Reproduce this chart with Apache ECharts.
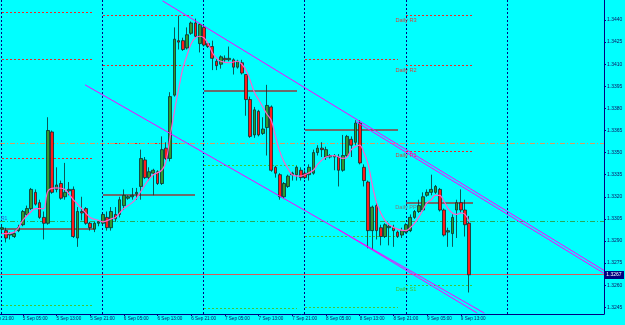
<!DOCTYPE html>
<html><head><meta charset="utf-8">
<script src="https://cdn.jsdelivr.net/npm/echarts@6/dist/echarts.min.js"></script>
<style>html,body{margin:0;padding:0;background:#00ffff;}#c{width:625px;height:325px;}</style>
</head><body><div id="c"></div>
<script>
// hours counted from 4 Sep 21:00
const candleHour = [3,4,5,6,7,8,9,10,11,12,13,14,15,16,17,18,19,20,21,22,23,24,25,26,27,28,29,30,31,32,33,34,35,36,37,38,39,40,41,42,43,44,45,46,47,48,49,50,51,52,53,54,55,56,57,58,59,60,61,62,63,64,65,66,67,68,69,70,71,72,73,74,75,76,77,78,79,80,81,82,83,84,85,86,87,88,89,90,91,92,93,94,95,96,97,98,99,100,101,102,103,104,105,106,107,108,109,110,111,112,113,114];
const candleOpen = [1.3298,1.3297,1.3294,1.3293,1.3297,1.3301,1.3308,1.3312,1.3323,1.3316,1.3306,1.3302,1.3364,1.3325,1.3329,1.3320,1.3325,1.3325,1.3292,1.3310,1.3312,1.3302,1.3298,1.3302,1.3302,1.3306,1.3299,1.3308,1.3308,1.3314,1.3319,1.3320,1.3322,1.3327,1.3345,1.3333,1.3336,1.3337,1.3329,1.3353,1.3346,1.3389,1.3426,1.3426,1.3421,1.3431,1.3438,1.3424,1.3435,1.3424,1.3422,1.3412,1.3410,1.3414,1.3413,1.3413,1.3408,1.3411,1.3403,1.3386,1.3362,1.3378,1.3363,1.3367,1.3381,1.3340,1.3335,1.3320,1.3327,1.3335,1.3335,1.3338,1.3336,1.3335,1.3336,1.3350,1.3353,1.3347,1.3347,1.3347,1.3347,1.3338,1.3348,1.3359,1.3357,1.3370,1.3340,1.3330,1.3297,1.3314,1.3299,1.3293,1.3299,1.3299,1.3296,1.3294,1.3296,1.3297,1.3306,1.3310,1.3311,1.3321,1.3323,1.3323,1.3325,1.3311,1.3296,1.3295,1.3311,1.3316,1.3311,1.3302];
const candleClose = [1.3299,1.3292,1.3295,1.3295,1.3299,1.3310,1.3312,1.3325,1.3315,1.3306,1.3302,1.3365,1.3323,1.3328,1.3319,1.3323,1.3324,1.3293,1.3310,1.3309,1.3302,1.3299,1.3302,1.3303,1.3308,1.3299,1.3310,1.3305,1.3318,1.3321,1.3320,1.3321,1.3323,1.3346,1.3333,1.3337,1.3338,1.3329,1.3352,1.3346,1.3388,1.3427,1.3425,1.3420,1.3430,1.3438,1.3429,1.3437,1.3423,1.3422,1.3414,1.3409,1.3415,1.3413,1.3414,1.3408,1.3412,1.3404,1.3386,1.3361,1.3379,1.3362,1.3366,1.3382,1.3338,1.3336,1.3320,1.3329,1.3334,1.3336,1.3340,1.3333,1.3333,1.3340,1.3350,1.3353,1.3352,1.3352,1.3348,1.3348,1.3338,1.3348,1.3361,1.3355,1.3370,1.3343,1.3331,1.3297,1.3313,1.3297,1.3293,1.3301,1.3300,1.3297,1.3293,1.3297,1.3301,1.3306,1.3310,1.3314,1.3320,1.3323,1.3325,1.3327,1.3311,1.3294,1.3297,1.3306,1.3316,1.3311,1.3301,1.3267];
const candleLow = [1.3295,1.3289,1.3291,1.3292,1.3296,1.3300,1.3307,1.3311,1.3314,1.3305,1.3291,1.3301,1.3322,1.3323,1.3318,1.3318,1.3321,1.3292,1.3286,1.3304,1.3301,1.3297,1.3296,1.3300,1.3301,1.3297,1.3297,1.3303,1.3306,1.3311,1.3318,1.3318,1.3318,1.3318,1.3332,1.3331,1.3321,1.3328,1.3328,1.3345,1.3344,1.3388,1.3420,1.3419,1.3420,1.3430,1.3428,1.3418,1.3422,1.3421,1.3406,1.3406,1.3407,1.3411,1.3412,1.3403,1.3407,1.3403,1.3375,1.3360,1.3360,1.3361,1.3362,1.3348,1.3337,1.3333,1.3318,1.3319,1.3326,1.3331,1.3331,1.3331,1.3332,1.3331,1.3335,1.3348,1.3347,1.3345,1.3346,1.3338,1.3327,1.3337,1.3347,1.3347,1.3355,1.3342,1.3327,1.3285,1.3284,1.3291,1.3287,1.3292,1.3287,1.3286,1.3292,1.3292,1.3295,1.3296,1.3305,1.3309,1.3310,1.3320,1.3321,1.3322,1.3310,1.3293,1.3286,1.3286,1.3292,1.3309,1.3293,1.3255];
const candleHigh = [1.3301,1.3299,1.3296,1.3297,1.3301,1.3311,1.3314,1.3326,1.3325,1.3318,1.3310,1.3374,1.3365,1.3340,1.3331,1.3343,1.3330,1.3327,1.3313,1.3320,1.3313,1.3303,1.3303,1.3304,1.3309,1.3310,1.3313,1.3313,1.3320,1.3325,1.3321,1.3326,1.3326,1.3352,1.3347,1.3340,1.3339,1.3338,1.3361,1.3357,1.3391,1.3435,1.3443,1.3428,1.3435,1.3439,1.3441,1.3438,1.3437,1.3425,1.3426,1.3414,1.3416,1.3416,1.3422,1.3414,1.3413,1.3413,1.3403,1.3388,1.3381,1.3379,1.3374,1.3396,1.3382,1.3341,1.3336,1.3330,1.3335,1.3337,1.3341,1.3340,1.3338,1.3342,1.3352,1.3355,1.3357,1.3354,1.3349,1.3349,1.3349,1.3362,1.3362,1.3361,1.3372,1.3372,1.3342,1.3331,1.3314,1.3316,1.3301,1.3302,1.3302,1.3301,1.3297,1.3299,1.3302,1.3308,1.3311,1.3318,1.3323,1.3325,1.3335,1.3328,1.3326,1.3312,1.3299,1.3308,1.3318,1.3325,1.3318,1.3307];

const maHour = [3,4,6,7,8,10,11,12,13,14,16,18,20,21,22,24,26,27,29,30,32,34,35,37,38,39,41,42,43,44,45,46,47,48,49,50,51,52,53,54,55,57,59,60,61,62,63,64,65,66,67,68,69,70,71,72,74,75,77,78,80,82,84,85,86,87,88,89,90,91,92,93,94,95,97,99,100,101,102,103,104,105,106,107,108,109,110,111,112,113,114];
const maValue = [1.3295,1.3295,1.3296,1.3299,1.3304,1.3310,1.3312,1.3312,1.3312,1.3324,1.3326,1.3325,1.3318,1.3315,1.3312,1.3306,1.3304,1.3303,1.3305,1.3306,1.3312,1.3316,1.3319,1.3328,1.3332,1.3335,1.3338,1.3344,1.3361,1.3378,1.3393,1.3407,1.3416,1.3424,1.3428,1.3429,1.3428,1.3424,1.3418,1.3414,1.3412,1.3411,1.3412,1.3410,1.3406,1.3399,1.3391,1.3386,1.3381,1.3376,1.3372,1.3361,1.3351,1.3344,1.3339,1.3335,1.3334,1.3335,1.3338,1.3342,1.3347,1.3348,1.3346,1.3347,1.3352,1.3354,1.3355,1.3350,1.3342,1.3328,1.3316,1.3309,1.3304,1.3301,1.3298,1.3297,1.3299,1.3302,1.3306,1.3311,1.3316,1.3318,1.3321,1.3321,1.3317,1.3312,1.3309,1.3308,1.3309,1.3308,1.3303];

const xTickHour = [0,8,16,24,32,40,48,56,64,72,80,88,96,104,112];
const xTickLabel = ['4 Sep 21:00','5 Sep 05:00','5 Sep 13:00','5 Sep 21:00','6 Sep 05:00','6 Sep 13:00','6 Sep 21:00','7 Sep 05:00','7 Sep 13:00','7 Sep 21:00','8 Sep 05:00','8 Sep 13:00','8 Sep 21:00','9 Sep 05:00','9 Sep 13:00'];
const yTickValue = [1.3245,1.3260,1.3275,1.3290,1.3305,1.3320,1.3335,1.3350,1.3365,1.3380,1.3395,1.3410,1.3425,1.3440];
const daySeparatorHour = [3,27,51,75,99,123];

// daily pivot levels per day
const pivotStart = [3,27,51,75,99];
const pivotEnd = [25,49,73,97,115];
const pivotR3 = [1.3445,1.3443,null,null,1.3443];
const pivotR2 = [1.3413,1.3409,null,null,1.3409];
const pivotR1 = [1.3346,1.3356,null,1.3413,1.3351];
const pivotPP = [1.3298,1.3321,1.3392,1.3365,1.3316];
const pivotS1 = [1.3246,null,1.3341,1.3293,1.3260];
const pivotS2 = [null,null,1.3244,1.3245,null];
const pivotLabelNames = ['Daily R3','Daily R2','Daily R1','Daily PP','Daily S1'];

// horizontal levels
const supportLevel = 1.3356;
const supportLevel2 = 1.3303;
const supportLevel2Name = 'R1';
const bidPrice = 1.3267;

// trend channel lines
const channelStartHour = [41.2, 87.1, 22.8, 82.8];
const channelStartPrice = [1.3453, 1.3371, 1.3396, 1.3298];
const channelEndHour = [146, 146, 117.6, 115.9];
const channelEndPrice = [1.3270, 1.3268, 1.3241, 1.3241];

const NAVY = '#000080';
const FONT = 'Liberation Sans';
const X_MIN = 0, X_MAX = 146, Y_MIN = 1.32404, Y_MAX = 1.34536;

const candleData = candleHour.map((h,i)=>[h, candleOpen[i], candleClose[i], candleLow[i], candleHigh[i]]);
const maData = maHour.map((h,i)=>[h, maValue[i]]);

// style kinds: 0 red dotted, 1 pivot gray, 2 green dotted, 3 orange dash-dot, 4 green dash-dot, 5 bid red
const lineKinds = [
  {color:'#ee2a26', width:1, dash:[2,2]},
  {color:'#6c6c6c', width:2, dash:null},
  {color:'#3fc53a', width:1, dash:[2,2]},
  {color:'#d59a62', width:1, dash:[5,2,1,2]},
  {color:'#27a85c', width:1, dash:[5,2,1,2]},
  {color:'#d85a5a', width:1, dash:null}
];
const segData = [];
function addSeg(arr, kind){
  arr.forEach((v,i)=>{ if(v!=null) segData.push([pivotStart[i], pivotEnd[i], v, kind]); });
}
addSeg(pivotR3,0); addSeg(pivotR2,0); addSeg(pivotR1,0);
addSeg(pivotPP,1); addSeg(pivotS1,2); addSeg(pivotS2,2);
segData.push([X_MIN, X_MAX, supportLevel, 3]);
segData.push([X_MIN, X_MAX, supportLevel2, 4]);
segData.push([X_MIN, X_MAX, bidPrice, 5]);

const last = pivotStart.length-1;
const labelLevels = [pivotR3[last], pivotR2[last], pivotR1[last], pivotPP[last], pivotS1[last]];
const labelColors = ['#d8403c','#d8403c','#d8403c','#7c7c7c','#3fc53a'];
const labelData = labelLevels.map((v,i)=>[pivotStart[last], v, i]);

const channelLines = channelStartHour.map((h,i)=>[{coord:[h, channelStartPrice[i]]},{coord:[channelEndHour[i], channelEndPrice[i]]}]);

function snap(v, w){ return (w % 2 === 1) ? Math.floor(v) + 0.5 : Math.round(v); }

const chart = echarts.init(document.getElementById('c'), null, {renderer:'canvas'});
chart.setOption({
  backgroundColor:'#00ffff',
  animation:false,
  grid:{left:-10.94, right:21, top:0, bottom:11, containLabel:false, outerBoundsMode:'none'},
  xAxis:{
    type:'value', min:X_MIN, max:X_MAX,
    splitLine:{show:false},
    axisLine:{show:true, lineStyle:{color:NAVY, width:1}},
    axisTick:{show:true, length:2, lineStyle:{color:NAVY}, customValues:xTickHour},
    axisLabel:{show:true, customValues:xTickHour, align:'left', margin:2, fontSize:4.6, fontFamily:FONT, color:'#101060',
      formatter:(v)=>{const k=xTickHour.indexOf(v); return k>=0?xTickLabel[k]:'';}}
  },
  yAxis:{
    type:'value', position:'right', min:Y_MIN, max:Y_MAX, scale:true,
    splitLine:{show:false},
    axisLine:{show:true, onZero:false, lineStyle:{color:NAVY, width:1}},
    axisTick:{show:true, length:2, lineStyle:{color:NAVY}, customValues:yTickValue},
    axisLabel:{show:true, customValues:yTickValue, margin:3, fontSize:5, fontFamily:FONT, color:'#101060',
      formatter:(v)=>v.toFixed(4)}
  },
  series:[
    { // day separators
      type:'custom', silent:true, z:1, clip:false,
      data: daySeparatorHour.map(h=>[h]),
      encode:{x:0},
      renderItem:(params, api)=>{
        const cs = params.coordSys;
        const x = snap(api.coord([api.value(0), Y_MIN])[0], 1);
        return {type:'line', shape:{x1:x, y1:cs.y, x2:x, y2:cs.y+cs.height},
          style:{stroke:NAVY, lineWidth:1, lineDash:[2,2]}};
      }
    },
    { // horizontal levels and pivot segments
      type:'custom', silent:true, z:2, clip:false,
      data: segData,
      encode:{x:[0,1], y:2},
      renderItem:(params, api)=>{
        const cs = params.coordSys;
        const k = lineKinds[api.value(3)];
        const v = api.value(2);
        const p0 = api.coord([api.value(0), v]);
        const p1 = api.coord([api.value(1), v]);
        const y = snap(p0[1], k.width);
        const x1 = Math.max(Math.round(p0[0]), cs.x < 0 ? 0 : cs.x);
        const x2 = Math.round(p1[0]);
        return {type:'line', shape:{x1:x1, y1:y, x2:x2, y2:y},
          style:{stroke:k.color, lineWidth:k.width, lineDash:k.dash}};
      }
    },
    { // pivot labels of the current day
      type:'custom', silent:true, z:2, clip:false,
      data: labelData,
      encode:{x:0, y:1},
      renderItem:(params, api)=>{
        const i = api.value(2);
        const p = api.coord([api.value(0), api.value(1)]);
        return {type:'text', x:p[0], y:Math.round(p[1])+1,
          style:{text:pivotLabelNames[i], fill:labelColors[i], font:'5.6px "Liberation Sans"', align:'center', verticalAlign:'top'}};
      }
    },
    { // name of the green level at the left edge
      type:'custom', silent:true, z:2, clip:false,
      data: [[X_MIN, supportLevel2]],
      encode:{x:0, y:1},
      renderItem:(params, api)=>{
        const p = api.coord([api.value(0), api.value(1)]);
        return {type:'text', x:1, y:Math.round(p[1])-1,
          style:{text:supportLevel2Name, fill:'#3a5ad8', font:'5px "Liberation Sans"', align:'left', verticalAlign:'bottom'}};
      }
    },
    {
      type:'candlestick', data:candleData, barWidth:3.2, z:3,
      itemStyle:{color:'#2f9a2f', color0:'#ff1a1a', borderColor:'#0c2c2c', borderColor0:'#0c2c2c', borderWidth:0.8}
    },
    {
      type:'line', data:maData, smooth:0.35, showSymbol:false, z:4,
      lineStyle:{color:'#ff60cc', width:1.2}
    },
    { // trend channel lines
      type:'line', data:[], silent:true, z:5,
      markLine:{symbol:'none', silent:true, animation:false, precision:4,
        label:{show:false},
        lineStyle:{color:'#ff00ff', type:'solid', width:1},
        data: channelLines}
    },
    { // current price box on the axis
      type:'custom', silent:true, z:6, clip:false,
      data:[[X_MAX, bidPrice]],
      encode:{x:0, y:1},
      renderItem:(params, api)=>{
        const p = api.coord([api.value(0), api.value(1)]);
        const y = Math.round(p[1]);
        return {type:'group', children:[
          {type:'rect', shape:{x:p[0], y:y-4, width:20, height:8}, style:{fill:NAVY}},
          {type:'text', x:p[0]+10, y:y, style:{text:api.value(1).toFixed(4), fill:'#ffffff', font:'5px "Liberation Sans"', align:'center', verticalAlign:'middle'}}
        ]};
      }
    }
  ]
});
</script>
</body></html>
